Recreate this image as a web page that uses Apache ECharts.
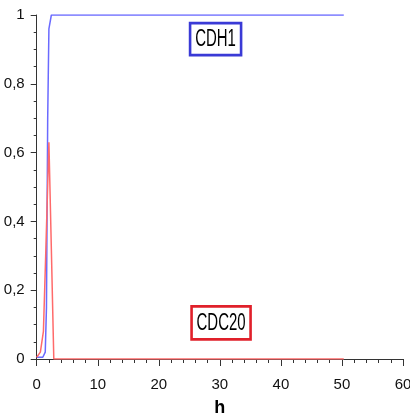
<!DOCTYPE html>
<html><head><meta charset="utf-8">
<script src="https://cdn.jsdelivr.net/npm/echarts@6/dist/echarts.min.js"></script>
<style>html,body{margin:0;padding:0;background:#fff}#c{width:410px;height:413px}</style>
</head><body><div id="c"></div>
<script>
// time (h) and values
const cdh1 = [[0,0.005],[1.0,0.005],[1.4,0.02],[1.6,0.15],[1.8,0.7],[2.0,0.96],[2.4,1.0],[50.3,1.0]];
const cdc20 = [[0,0.005],[0.6,0.02],[1.1,0.08],[1.47,0.3],[2.0,0.63],[2.4,0.32],[2.8,0.0],[50.3,0.0]];
const xTicks = [0,10,20,30,40,50,60];
const yTicks = [0,0.2,0.4,0.6,0.8,1];
const labelCDH1 = {name:'CDH1', x:29.3, y:0.93};
const labelCDC20 = {name:'CDC20', x:30.2, y:0.105};

const font = "'Liberation Sans',Arial,sans-serif";
const chart = echarts.init(document.getElementById('c'));
chart.setOption({
  animation:false,
  grid:{left:36.7, right:7, top:15, bottom:54, containLabel:false, outerBoundsMode:'none'},
  xAxis:{type:'value', min:0, max:60, interval:10, offset:7,
    name:'h', nameLocation:'middle', nameGap:33,
    nameTextStyle:{fontWeight:'bold', fontSize:18, color:'#000', fontFamily:font},
    axisLine:{show:true, lineStyle:{color:'#333', width:1}},
    axisTick:{show:true, length:7, lineStyle:{color:'#333'}},
    minorTick:{show:true, splitNumber:5, length:4, lineStyle:{color:'#333'}},
    splitLine:{show:false},
    axisLabel:{fontFamily:font, fontSize:15, color:'#111', margin:11,
      formatter:v=>xTicks.includes(v)?String(v):''}
  },
  yAxis:{type:'value', min:0, max:1, interval:0.2, offset:4,
    axisLine:{show:true, lineStyle:{color:'#333', width:1}},
    axisTick:{show:true, length:6, lineStyle:{color:'#333'}},
    minorTick:{show:true, splitNumber:4, length:3, lineStyle:{color:'#333'}},
    splitLine:{show:false},
    axisLabel:{fontFamily:font, fontSize:15, color:'#111', margin:8,
      formatter:v=>{const t=yTicks.find(k=>Math.abs(k-v)<1e-9); return t===undefined?'':String(+t.toFixed(1)).replace('.',',');}}
  },
  series:[
    {type:'line', data:cdh1, symbol:'none', lineStyle:{color:'#6a6aff', width:1.5}, z:2},
    {type:'line', data:cdc20, symbol:'none', lineStyle:{color:'#ff6a6a', width:1.5}, z:3}
  ]
});
function boxLabel(l, color, w, h){
  const p = chart.convertToPixel({gridIndex:0}, [l.x, l.y]);
  return [
    {type:'rect', z:10, shape:{x:p[0]-w/2, y:p[1]-h/2, width:w, height:h},
      style:{fill:'#fff', stroke:color, lineWidth:2.6}},
    {type:'text', z:11, x:p[0], y:p[1]+1, scaleX:0.65, scaleY:1,
      style:{text:l.name, fill:'#000', font:"23px "+font, align:'center', verticalAlign:'middle'}}
  ];
}
chart.setOption({graphic:[].concat(boxLabel(labelCDH1,'#3a3ad6',51,32), boxLabel(labelCDC20,'#e0202a',59,33))});
</script></body></html>
